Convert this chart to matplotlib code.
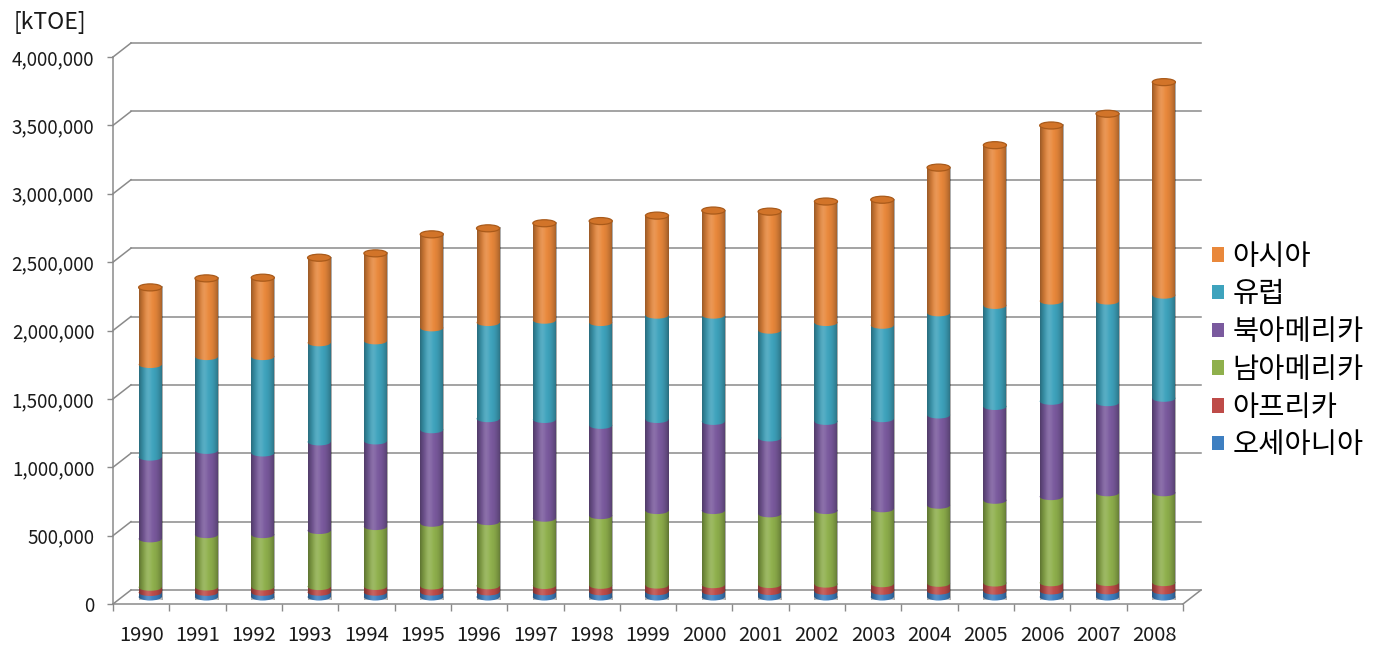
import matplotlib
matplotlib.use('Agg')
import numpy as np
import matplotlib.pyplot as plt
from matplotlib.patches import Ellipse, Patch
import matplotlib.ticker as mticker

plt.rcParams['font.family'] = ['Noto Sans CJK KR', 'DejaVu Sans']

# ---------------- data (kTOE) ----------------
years = ['1990', '1991', '1992', '1993', '1994', '1995', '1996', '1997', '1998', '1999',
         '2000', '2001', '2002', '2003', '2004', '2005', '2006', '2007', '2008']
oceania = [33000, 34000, 34000, 35000, 35000, 36000, 37000, 38000, 38000, 39000,
           40000, 40000, 41000, 42000, 43000, 43000, 44000, 45000, 45000]
africa = [38000, 39000, 40000, 41000, 42000, 44000, 45000, 46000, 47000, 48000,
          50000, 51000, 53000, 55000, 57000, 59000, 60000, 61000, 60000]
south_america = [354000, 383000, 382000, 410000, 438000, 459000, 469000, 492000, 510000, 545000,
                 542000, 517000, 538000, 548000, 571000, 605000, 630000, 656000, 657000]
north_america = [598000, 616000, 597000, 648000, 626000, 684000, 753000, 722000, 660000, 666000,
                 652000, 555000, 652000, 659000, 660000, 686000, 697000, 659000, 691000]
europe = [677000, 686000, 705000, 725000, 732000, 745000, 703000, 726000, 752000, 763000,
          777000, 788000, 723000, 683000, 747000, 739000, 733000, 743000, 754000]
asia = [564000, 572000, 577000, 622000, 640000, 684000, 689000, 709000, 742000, 728000,
        765000, 867000, 885000, 918000, 1062000, 1172000, 1284000, 1370000, 1558000]

series_names = ['오세아니아', '아프리카', '남아메리카', '북아메리카', '유럽', '아시아']
series_values = [oceania, africa, south_america, north_america, europe, asia]
series_colors = ['#3E7FC1', '#BE4B48', '#8FB04C', '#7A5A9E', '#3EA3BD', '#E9883B']
y_ticks = [0, 500000, 1000000, 1500000, 2000000, 2500000, 3000000, 3500000, 4000000]
y_unit = '[kTOE]'

# ---------------- layout ----------------
W, H = 1381, 654
fig = plt.figure(figsize=(W / 100, H / 100), dpi=100)
ax_left, ax_right, ax_top, ax_bot = 113, 1183, 57, 604
ax = fig.add_axes([ax_left / W, (H - ax_bot) / H, (ax_right - ax_left) / W, (ax_bot - ax_top) / H])
n = len(years)
ax.set_xlim(-0.5, n - 0.5)
ax.set_ylim(0, 4000000)
for s in ax.spines.values():
    s.set_visible(False)

px_x = (ax_right - ax_left) / n          # pixels per category
px_y = (ax_bot - ax_top) / 4000000       # pixels per unit
gx, gy = 18 / px_x, 14 / px_y            # back-wall offset (3D depth)
bx, by = 9 / px_x, 7 / px_y              # bar offset (middle of depth)
grid_c = '#8a8a8a'

# back-wall gridlines + diagonal connectors
for v in y_ticks:
    ax.plot([-0.5 + gx, n - 0.5 + gx], [v + gy, v + gy], color=grid_c, lw=1.1, clip_on=False, zorder=1)
    ax.plot([-0.5, -0.5 + gx], [v, v + gy], color=grid_c, lw=1.1, clip_on=False, zorder=1)
# front axis lines
ax.plot([-0.5, -0.5], [0, 4000000], color=grid_c, lw=1.1, clip_on=False, zorder=1)
ax.plot([-0.5, n - 0.5], [0, 0], color=grid_c, lw=1.1, clip_on=False, zorder=1)
ax.plot([n - 0.5, n - 0.5 + gx], [0, gy], color=grid_c, lw=1.1, clip_on=False, zorder=1)

# ---------------- cylinders ----------------
bw = 0.41
eh = 7 / px_y
x = np.arange(n)
bottom = np.full(n, by)
for k, (vals, col) in enumerate(zip(series_values, series_colors)):
    vals = np.array(vals, dtype=float)
    ax.bar(x + bx, vals, bw, bottom=bottom, color=col, edgecolor='none', zorder=3 + 2 * k)
    for i in range(n):
        ax.add_patch(Ellipse((x[i] + bx, bottom[i]), bw, eh, facecolor=col, edgecolor='none',
                             zorder=3 + 2 * k + 1))
    bottom = bottom + vals
# top caps
for i in range(n):
    ax.add_patch(Ellipse((x[i] + bx, bottom[i]), bw, eh, facecolor='#D27429', edgecolor='#A95A1A',
                         lw=0.9, zorder=30))
# cylinder shading
prof = np.linspace(-1, 1, 60)
shade = np.zeros((1, 60, 4))
shade[0, :, 3] = 0.34 * np.abs(prof) ** 2.2
hl = np.ones((1, 60, 4))
hl[0, :, 3] = 0.14 * np.exp(-((prof + 0.25) / 0.3) ** 2)
for i in range(n):
    ext = [x[i] + bx - bw / 2, x[i] + bx + bw / 2, by - eh / 2, bottom[i]]
    ax.imshow(shade, extent=ext, aspect='auto', zorder=25, interpolation='bilinear')
    ax.imshow(hl, extent=ext, aspect='auto', zorder=26, interpolation='bilinear')
ax.set_xlim(-0.5, n - 0.5)
ax.set_ylim(0, 4000000)
ax.set_aspect('auto')

# ---------------- ticks ----------------
ax.set_yticks(y_ticks)
ax.yaxis.set_major_formatter(mticker.FuncFormatter(lambda v, p: f'{v:,.0f}'))
ax.tick_params(axis='y', length=4.5, width=1, color=grid_c, pad=9, labelsize=13.5, labelcolor='#1a1a1a')
ax.set_xticks(np.arange(-0.5, n, 1.0))
ax.set_xticklabels([''] * (n + 1))
ax.tick_params(axis='x', which='major', length=5, width=1, color=grid_c)
ax.set_xticks(x, years, minor=True)
ax.tick_params(axis='x', which='minor', length=0, pad=15, labelsize=14.5, labelcolor='#1a1a1a')

fig.text(14 / W, 1 - 23 / H, y_unit, fontsize=16.5, va='center', ha='left', color='#1a1a1a')

# ---------------- legend ----------------
handles = [Patch(facecolor=c, edgecolor='none') for c in series_colors[::-1]]
fig.legend(handles, series_names[::-1], loc='center left', bbox_to_anchor=(1198 / W, 1 - 351 / H),
           frameon=False, fontsize=20.5, handlelength=0.4, handleheight=0.4, handletextpad=0.3,
           labelspacing=0.27, borderpad=0)

fig.savefig('out.png', dpi=100)
